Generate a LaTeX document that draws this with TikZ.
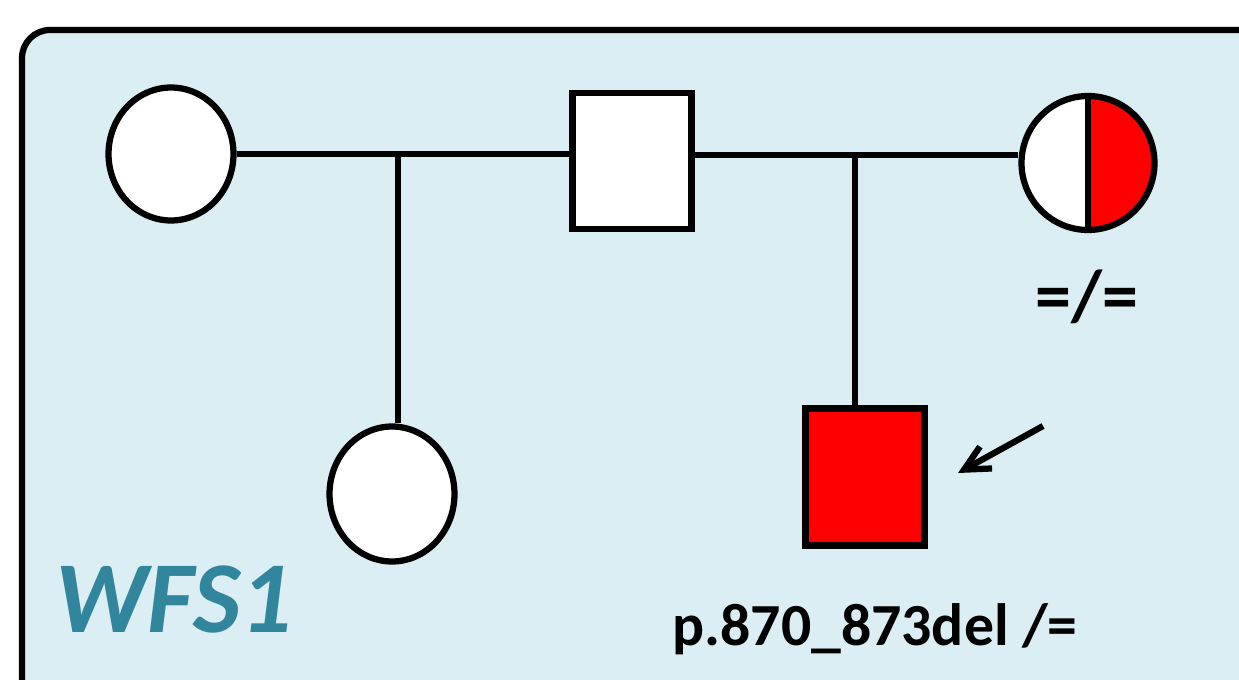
\documentclass[tikz,border=0pt]{standalone}
\usepackage{fontspec}
\setmainfont{Carlito}
\usetikzlibrary{shapes.geometric,arrows.meta}
\definecolor{panel}{HTML}{DAEEF3}
\definecolor{gene}{HTML}{31859C}
\begin{document}
\begin{tikzpicture}[x=0.02cm,y=-0.02cm,line width=0.125cm]
\tikzstyle{female} = [ellipse, draw=black, fill=white, inner sep=0pt, minimum width=2.5cm, minimum height=2.66cm]
\tikzstyle{male} = [rectangle, draw=black, fill=white, inner sep=0pt, minimum width=2.38cm, minimum height=2.72cm]
\tikzstyle{carrier} = [female, path picture={\fill[red] (path picture bounding box.north) rectangle (path picture bounding box.south east);
  \draw (path picture bounding box.north) -- (path picture bounding box.south);}]
\tikzstyle{label} = [font=\bfseries\fontsize{34}{40}\selectfont, inner sep=0pt]
\useasboundingbox (0,0) rectangle (1239,679);
\clip (0,0) rectangle (1239,679);
% panel
\draw[fill=panel, rounded corners=0.56cm] (22,30) rectangle (1290,720);
% first couple
\node (wife1) [female] at (171,154) {};
\node (dad) [male] at (632,161) {};
\node (mom) [carrier, minimum width=2.66cm, minimum height=2.68cm] at (1088,163) {};
\node (dau) [female, minimum height=2.7cm] at (392,494) {};
\node (son) [male, fill=red, minimum width=2.38cm, minimum height=2.74cm] at (865,477) {};
\coordinate (j1) at (398,154);
\coordinate (j2) at (855,155);
\draw (wife1.east) -- (wife1.east -| dad.west);
\draw (dad.east |- j2) -- (j2 -| mom.west);
\draw (j1) -- (j1 |- dau.north);
\draw (j2) -- (j2 |- son.north);
% proband arrow
\coordinate (ptr) at (1043,426);
\coordinate (ptrtip) at (958,473);
\draw [-{Straight Barb[length=0.5cm,width=0.5cm]}] (ptr) -- (ptrtip);
% genotypes
\node (gmom) [label, font=\bfseries\fontsize{41}{48}\selectfont] at (1087,297) {=/=};
\node (gson) [label, anchor=base] at (875,645) {p.870\_873del /=};
\node (gname) [inner sep=0pt, anchor=base west, text=gene, font=\bfseries\itshape\fontsize{58}{66}\selectfont] at (52,632) {WFS1};
\end{tikzpicture}
\end{document}
